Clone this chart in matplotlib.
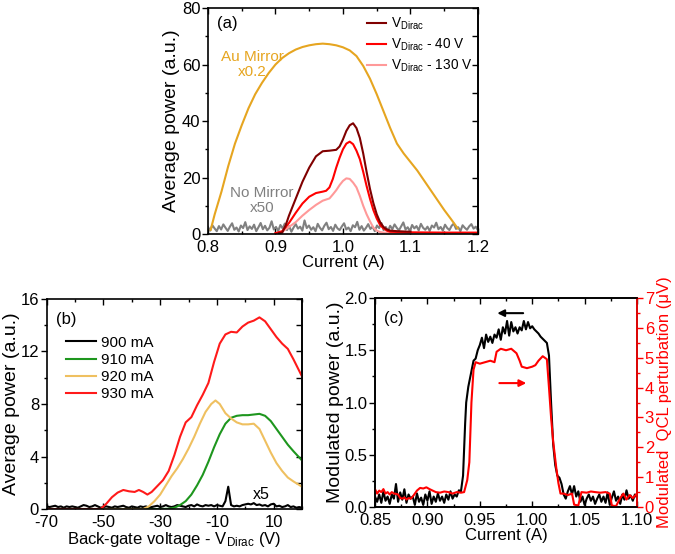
import matplotlib
matplotlib.use('Agg')
import matplotlib.pyplot as plt
from matplotlib.ticker import MultipleLocator, FormatStrFormatter
import numpy as np

plt.rcParams['font.family'] = ['Liberation Sans', 'DejaVu Sans']
plt.rcParams['mathtext.default'] = 'regular'
plt.rcParams['axes.unicode_minus'] = False
plt.rcParams['axes.linewidth'] = 1.2

TICK = 12
XLAB = 12
YLAB = 14

# ---------------- panel (a) data ----------------
au_x = [0.804, 0.81, 0.82, 0.83, 0.84, 0.85, 0.86, 0.87, 0.88, 0.89, 0.90, 0.91, 0.92, 0.93,
        0.94, 0.95, 0.96, 0.97, 0.98, 0.99, 1.00, 1.01, 1.02, 1.03, 1.04, 1.05, 1.06, 1.07,
        1.08, 1.09, 1.10, 1.11, 1.12, 1.13, 1.14, 1.15, 1.16, 1.17]
au_y = [1.5, 7, 15, 24, 32, 38.5, 44.5, 49.5, 53.5, 57, 60, 62.3, 64, 65.3,
        66.2, 66.8, 67.2, 67.4, 67.2, 66.8, 66.1, 65, 63, 59.5, 55, 49.5, 43.5, 37.5,
        32, 28.5, 25.5, 22.5, 19, 15.5, 12, 8.5, 5.3, 2]

vd_x = [0.905, 0.91, 0.915, 0.92, 0.93, 0.94, 0.95, 0.96, 0.97, 0.98, 0.99, 0.995, 1.0, 1.005,
        1.01, 1.015, 1.02, 1.025, 1.03, 1.035, 1.04, 1.045, 1.05, 1.055, 1.06, 1.065, 1.07,
        1.08, 1.10]
vd_y = [0.3, 0.5, 3, 6.5, 12.5, 18.5, 23.5, 27.5, 29.3, 29.5, 29.8, 31, 33.5, 36.5,
        38.5, 39.2, 37.5, 34, 28.5, 22, 16, 11, 7, 4.2, 2.5, 1.6, 1.2,
        1.0, 0.8]

v40_x = [0.90, 0.91, 0.92, 0.93, 0.94, 0.95, 0.96, 0.97, 0.975, 0.98, 0.985, 0.99, 0.995, 1.0,
         1.005, 1.01, 1.015, 1.02, 1.025, 1.03, 1.035, 1.04, 1.045, 1.05, 1.055, 1.06, 1.065,
         1.07, 1.10, 1.15, 1.20]
v40_y = [0.3, 1, 3.9, 7.5, 10.8, 13.2, 14.5, 15, 15.3, 16.5, 19.5, 23.5, 27, 30,
         32, 32.7, 31.8, 29.5, 26.5, 22, 17, 12.5, 8.5, 5.5, 3.2, 2, 1.2,
         0.8, 0.6, 0.5, 0.5]

v130_x = [0.90, 0.91, 0.92, 0.93, 0.94, 0.95, 0.96, 0.97, 0.98, 0.985, 0.99, 0.995, 1.0, 1.005,
          1.01, 1.015, 1.02, 1.025, 1.03, 1.035, 1.04, 1.045, 1.05, 1.055, 1.06, 1.10]
v130_y = [0.2, 0.8, 2.5, 4.2, 6.5, 8.5, 10.3, 11.8, 12.6, 14, 15.5, 17.3, 18.8, 19.7,
          19.5, 18.2, 16.5, 13.5, 10, 7, 4.5, 2.3, 1.2, 0.7, 0.5, 0.4]

nomirror_y = [2.5, 1.2, 3.1, 2.0, 1.0, 2.8, 1.6, 3.4, 2.2, 1.1, 2.6, 3.8, 1.5, 2.3, 0.9, 3.0,
              2.1, 4.2, 1.4, 2.7, 1.8, 3.3, 1.0, 2.4, 3.9, 1.7, 2.9, 1.3, 2.2, 4.5, 1.6, 2.5,
              1.1, 3.2, 2.0, 3.7, 1.4, 2.8, 0.8, 2.3, 3.5, 1.9, 2.6, 1.2, 4.8, 2.1, 3.0, 1.5,
              2.4, 1.0, 3.6, 2.2, 1.3, 2.9, 4.0, 1.7, 2.5, 1.1, 3.3, 2.0, 1.4, 2.7, 3.8, 1.6,
              2.3, 1.0, 3.1, 2.4, 4.3, 1.5, 2.8, 1.2, 2.2, 3.5, 1.8, 2.6, 1.0, 3.0, 2.1, 3.9,
              1.4, 2.5, 1.1, 2.9, 1.7, 3.4, 2.2, 1.3, 2.7, 4.1, 1.6, 2.4, 1.0, 3.2, 2.0, 2.8,
              1.3, 3.6, 2.2, 1.5, 2.6, 1.1, 3.0, 2.3, 4.0, 1.7, 2.5, 1.2, 3.3, 2.1, 1.4, 2.9,
              3.7, 1.8, 2.4, 1.0, 3.1, 2.2, 1.5, 2.7, 3.5, 1.9, 2.6, 1.3]
nomirror_x = np.linspace(0.8, 1.2, len(nomirror_y))

# ---------------- panel (b) data ----------------
b900_y = [0.2, 0.15, 0.2, 0.25, 0.15, 0.2, 0.1, 0.2, 0.15, 0.2, 0.15, 0.1, 0.2, 0.3, 0.25,
          0.15, 0.2, 0.3, 0.2, 0.1, 0.15, 0.2, 0.15, 0.1, 0.2, 0.15, 0.2, 0.25, 0.15, 0.1,
          0.2, 0.15, 0.1, 0.2, 0.15, 0.2, 0.1, 0.15, 0.2, 0.25, 0.15, 0.2, 0.3, 0.2, 0.15,
          0.2, 0.3, 0.25, 0.2, 0.15, 0.25, 0.3, 0.2, 0.35, 0.25, 0.2, 0.3, 0.25, 0.3, 0.2,
          0.3, 0.25, 0.2, 0.6, 1.7, 0.3, 0.2, 0.25, 0.2, 0.3, 0.35, 0.4, 0.35, 0.45, 0.3,
          0.35, 0.25, 0.3, 0.2, 0.35, 0.4, 0.2, 0.25, 0.15, 0.2, 0.3, 0.15, 0.2, 0.1, 0.15, 0.1]
b900_x = np.linspace(-70, 20, len(b900_y))

b910_x = [-70, -30, -27, -25, -23, -21, -19, -17, -15, -13, -11, -9, -7, -5, -3, -1, 1, 3, 5,
          7, 9, 11, 13, 15, 17, 20]
b910_y = [0, 0, 0.02, 0.1, 0.3, 0.6, 1.1, 1.8, 2.6, 3.6, 4.7, 5.7, 6.5, 6.95, 7.1, 7.15, 7.15,
          7.2, 7.25, 7.1, 6.7, 6.1, 5.5, 4.9, 4.4, 3.7]

b920_x = [-70, -36, -34, -32, -30, -28, -26, -24, -22, -20, -18, -16, -14, -12, -10.5, -9,
          -7, -5, -3, -1, 1, 3, 5, 7, 9, 11, 13, 15, 17, 20]
b920_y = [0, 0, 0.2, 0.6, 1.1, 1.8, 2.5, 3.1, 3.8, 4.6, 5.5, 6.5, 7.4, 8.0, 8.27, 8.0,
          7.3, 6.9, 6.6, 6.45, 6.45, 6.5, 6.1, 5.2, 4.3, 3.5, 2.9, 2.4, 2.1, 1.7]

b930_x = [-70, -51, -49, -47, -45, -43, -41, -39, -37.5, -36, -34.5, -33, -31, -29, -27, -25,
          -23, -21, -19, -17, -15, -13, -11, -9, -7, -5, -3, -1, 1, 3, 5, 7, 9, 11, 13,
          15, 17, 20]
b930_y = [0, 0, 0.4, 0.9, 1.25, 1.45, 1.35, 1.3, 1.45, 1.3, 1.1, 1.3, 1.75, 2.2, 2.9, 4.1,
          5.5, 6.6, 7.0, 7.9, 8.7, 9.6, 11.2, 12.6, 13.3, 13.5, 13.45, 13.9, 14.2, 14.35, 14.6,
          14.3, 13.7, 13.1, 12.6, 12.2, 11.4, 10.1]

# ---------------- panel (c) data ----------------
cblk_x = [0.850, 0.852, 0.854, 0.856, 0.858, 0.860, 0.862, 0.864, 0.866, 0.868, 0.870, 0.872,
          0.874, 0.876, 0.878, 0.880, 0.882, 0.884, 0.886, 0.888, 0.890, 0.892, 0.894, 0.896,
          0.898, 0.900, 0.902, 0.904, 0.906, 0.908, 0.910, 0.912, 0.914, 0.916, 0.918, 0.920,
          0.922, 0.924, 0.926, 0.928, 0.930, 0.932, 0.934, 0.936, 0.937, 0.939, 0.942, 0.944,
          0.946, 0.948, 0.950, 0.952, 0.954, 0.956, 0.958, 0.960, 0.962, 0.964, 0.966, 0.968,
          0.970, 0.972, 0.974, 0.976, 0.978, 0.980, 0.982, 0.984, 0.986, 0.988, 0.990, 0.992,
          0.994, 0.996, 0.998, 1.000, 1.002, 1.004, 1.006, 1.008, 1.010, 1.012, 1.014, 1.016,
          1.018, 1.020, 1.022, 1.024, 1.026, 1.028, 1.030, 1.032, 1.034, 1.036, 1.038, 1.040,
          1.042, 1.044, 1.046, 1.048, 1.050, 1.052, 1.054, 1.056, 1.058, 1.060, 1.062, 1.064,
          1.066, 1.068, 1.070, 1.072, 1.074, 1.076, 1.078, 1.080, 1.082, 1.084, 1.086, 1.088,
          1.090, 1.092, 1.094, 1.096, 1.098, 1.100]
cblk_y = [0.1, 0.05, 0.12, 0.04, 0.15, 0.06, 0.1, 0.03, 0.12, 0.08, 0.22, 0.05, 0.14, 0.07,
          0.17, 0.04, 0.12, 0.08, 0.1, 0.02, 0.13, 0.05, 0.09, 0.02, 0.12, 0.06, 0.15, 0.03,
          0.1, 0.05, 0.13, 0.06, 0.1, 0.04, 0.12, 0.07, 0.15, 0.08, 0.12, 0.1, 0.16, 0.15,
          0.3, 0.8, 1.0, 1.15, 1.3, 1.4, 1.42, 1.5, 1.55, 1.62, 1.52, 1.65, 1.58, 1.63, 1.57,
          1.65, 1.62, 1.7, 1.6, 1.72, 1.66, 1.78, 1.64, 1.77, 1.68, 1.72, 1.66, 1.72, 1.69,
          1.78, 1.7, 1.77, 1.71, 1.73, 1.7, 1.68, 1.66, 1.63, 1.61, 1.59, 1.57, 1.45, 1.0,
          0.6, 0.4, 0.3, 0.28, 0.22, 0.12, 0.08, 0.15, 0.2, 0.12, 0.2, 0.1, 0.15, 0.05, 0.1,
          0.02, 0.08, 0.12, 0.06, 0.1, 0.03, 0.08, 0.12, 0.05, 0.1, 0.04, 0.14, 0.02, 0.09,
          0.15, 0.06, 0.1, 0.03, 0.12, 0.07, 0.16, 0.08, 0.11, 0.06, 0.12, 0.09]

cred_x = [0.850, 0.852, 0.854, 0.856, 0.858, 0.860, 0.862, 0.864, 0.866, 0.868, 0.870, 0.872,
          0.874, 0.876, 0.878, 0.880, 0.882, 0.884, 0.886, 0.888, 0.890, 0.893, 0.896, 0.899,
          0.902, 0.905, 0.908, 0.912, 0.916, 0.920, 0.924, 0.928, 0.932, 0.935, 0.938, 0.940,
          0.942, 0.944, 0.946, 0.950, 0.955, 0.960, 0.964, 0.966, 0.970, 0.975, 0.980, 0.985,
          0.988, 0.990, 0.995, 1.000, 1.003, 1.006, 1.010, 1.014, 1.016, 1.018, 1.020, 1.023,
          1.025, 1.027, 1.030, 1.034, 1.038, 1.040, 1.044, 1.047, 1.052, 1.056, 1.060, 1.065,
          1.070, 1.074, 1.076, 1.080, 1.084, 1.087, 1.090, 1.093, 1.096, 1.100]
cred_y = [0.6, 0.45, 0.55, 0.5, 0.6, 0.45, 0.5, 0.42, 0.5, 0.45, 0.44, 0.42, 0.3, 0.28,
          0.32, 0.25, 0.3, 0.28, 0.35, 0.45, 0.55, 0.64, 0.62, 0.66, 0.6, 0.55, 0.5, 0.48,
          0.52, 0.5, 0.45, 0.5, 0.48, 0.5, 0.9, 1.5, 3.5, 4.6, 4.85, 4.8, 4.85, 4.9, 4.85,
          5.2, 5.3, 5.25, 5.3, 5.15, 4.9, 4.7, 4.65, 4.7, 4.75, 4.9, 5.05, 4.95, 4.0, 3.0,
          2.2, 1.3, 0.8, 0.45, 0.45, 0.4, 0.45, 0.08, 0.05, 0.5, 0.48, 0.52, 0.5, 0.48,
          0.5, 0.45, 0.05, 0.03, 0.3, 0.45, 0.25, 0.4, 0.3, 0.45]

# ---------------- figure ----------------
fig = plt.figure(figsize=(6.75, 5.54), dpi=100)


def ticks(ax):
    ax.tick_params(axis='x', which='both', direction='in', top=True, labelsize=TICK, pad=4)
    ax.tick_params(axis='y', which='both', direction='out', labelsize=TICK, pad=1.5)
    ax.tick_params(which='major', length=4, width=1)
    ax.tick_params(which='minor', length=2.5, width=1)


# panel (a)
axa = fig.add_axes([0.3081, 0.5776, 0.4, 0.4079])
axa.plot(nomirror_x, nomirror_y, color='#808080', lw=1.5)
axa.plot(au_x, au_y, color='#E6A520', lw=1.5)
axa.plot(v130_x, v130_y, color='#FF9999', lw=1.5)
axa.plot(v40_x, v40_y, color='#FF0000', lw=1.5)
axa.plot(vd_x, vd_y, color='#800000', lw=1.5)
axa.set_xlim(0.8, 1.2)
axa.set_ylim(0, 80)
axa.xaxis.set_major_locator(MultipleLocator(0.1))
axa.xaxis.set_minor_locator(MultipleLocator(0.05))
axa.yaxis.set_major_locator(MultipleLocator(20))
axa.yaxis.set_minor_locator(MultipleLocator(10))
ticks(axa)
axa.set_xlabel('Current (A)', fontsize=XLAB, labelpad=0)
axa.set_ylabel('Average power (a.u.)', fontsize=YLAB, labelpad=1)
axr = axa.secondary_yaxis('right')
axr.yaxis.set_major_locator(MultipleLocator(10))
axr.tick_params(direction='in', length=4, width=1, labelright=False)
axa.text(0.035, 0.91, '(a)', transform=axa.transAxes, fontsize=12)
axa.text(0.866, 60.0, 'Au Mirror\nx0.2', color='#E6A520', ha='center', va='center',
         fontsize=11, linespacing=1.1)
axa.text(0.88, 12, 'No Mirror\nx50', color='#808080', ha='center', va='center',
         fontsize=11, linespacing=1.1)
la, = axa.plot([], [], color='#800000', lw=1.5, label='V$_{Dirac}$')
lb, = axa.plot([], [], color='#FF0000', lw=1.5, label='V$_{Dirac}$ - 40 V')
lc, = axa.plot([], [], color='#FF9999', lw=1.5, label='V$_{Dirac}$ - 130 V')
axa.legend(handles=[la, lb, lc], loc='upper left', bbox_to_anchor=(0.545, 1.02),
           frameon=False, fontsize=9.8, handlelength=1.4, handletextpad=0.3,
           labelspacing=0.35)

# panel (b)
axb = fig.add_axes([0.0692, 0.0812, 0.3782, 0.3791])
axb.plot(b900_x, b900_y, color='black', lw=1.5, label='900 mA')
axb.plot(b910_x, b910_y, color='#1E961E', lw=1.5, label='910 mA')
axb.plot(b920_x, b920_y, color='#EFC060', lw=1.5, label='920 mA')
axb.plot(b930_x, b930_y, color='#FF1A1A', lw=1.5, label='930 mA')
axb.set_xlim(-70, 20)
axb.set_ylim(0, 16)
axb.set_xticks([-70, -50, -30, -10, 10])
axb.xaxis.set_minor_locator(MultipleLocator(10))
axb.yaxis.set_major_locator(MultipleLocator(4))
axb.yaxis.set_minor_locator(MultipleLocator(2))
ticks(axb)
axbr = axb.secondary_yaxis('right')
axbr.yaxis.set_major_locator(MultipleLocator(2))
axbr.tick_params(direction='in', length=4, width=1, labelright=False)
axb.set_xlabel('Back-gate voltage - V$_{Dirac}$ (V)', fontsize=XLAB, labelpad=0)
axb.set_ylabel('Average power (a.u.)', fontsize=YLAB, labelpad=0)
axb.text(0.035, 0.88, '(b)', transform=axb.transAxes, fontsize=12)
axb.text(2.5, 1.1, 'x5', fontsize=11.5, va='center')
axb.legend(loc='upper left', bbox_to_anchor=(0.02, 0.89), frameon=False, fontsize=11,
           handlelength=2.0, handletextpad=0.3, labelspacing=0.2)

# panel (c)
axc = fig.add_axes([0.5556, 0.0848, 0.3881, 0.3773])
axc.plot(cblk_x, cblk_y, color='black', lw=1.5)
axc.set_xlim(0.85, 1.10)
axc.set_ylim(0, 2.0)
axc.xaxis.set_major_locator(MultipleLocator(0.05))
axc.xaxis.set_minor_locator(MultipleLocator(0.025))
axc.yaxis.set_major_locator(MultipleLocator(0.5))
axc.yaxis.set_minor_locator(MultipleLocator(0.25))
axc.xaxis.set_major_formatter(FormatStrFormatter('%.2f'))
axc.yaxis.set_major_formatter(FormatStrFormatter('%.1f'))
ticks(axc)
axc.set_xlabel('Current (A)', fontsize=XLAB, labelpad=0)
axc.set_ylabel('Modulated power (a.u.)', fontsize=YLAB, labelpad=0)
axc.text(0.035, 0.88, '(c)', transform=axc.transAxes, fontsize=12)
axc.annotate('', xy=(0.964, 1.855), xytext=(0.994, 1.855),
             arrowprops=dict(arrowstyle='-|>', color='black', lw=1.5, mutation_scale=10))

axc2 = axc.twinx()
axc2.plot(cred_x, cred_y, color='#FF0000', lw=1.5)
axc2.set_ylim(0, 7)
axc2.yaxis.set_major_locator(MultipleLocator(1))
axc2.yaxis.set_minor_locator(MultipleLocator(0.5))
axc2.tick_params(axis='y', which='both', direction='out', colors='#FF0000',
                 labelsize=TICK, pad=1.5)
axc2.tick_params(which='major', length=4, width=1)
axc2.tick_params(which='minor', length=2.5, width=1)
axc2.spines['right'].set_color('#FF0000')
axc2.set_ylabel('Modulated  QCL perturbation (\u03bcV)', color='#FF0000', fontsize=12,
                va='center')
axc2.yaxis.set_label_coords(1.105, 0.5)

axc2.annotate('', xy=(0.997, 4.15), xytext=(0.966, 4.15),
              arrowprops=dict(arrowstyle='-|>', color='#FF0000', lw=1.5, mutation_scale=10))

fig.savefig('out.png', dpi=100)
